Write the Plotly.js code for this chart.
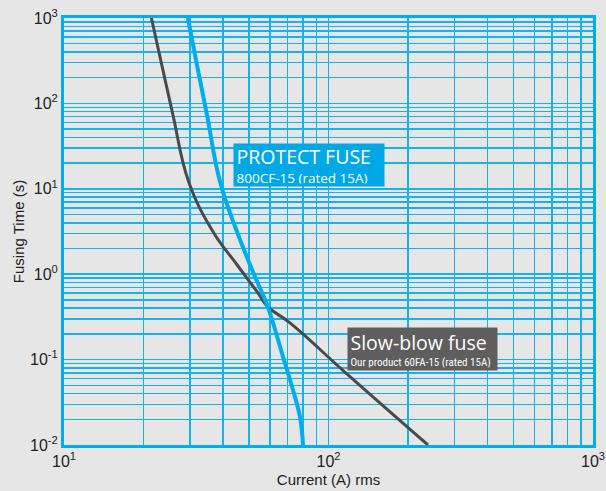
<!DOCTYPE html>
<html><head><meta charset="utf-8">
<script src="https://cdn.plot.ly/plotly-3.0.1.min.js"></script>
<style>body{margin:0;background:#e6e6e6}#chart{width:606px;height:491px}</style>
</head><body><div id="chart"></div>
<script>
// Slow-blow fuse (Our product 60FA-15)
const slowCurrent = [21.4, 23.1, 25.8, 29.6, 36.6, 45.1, 54.1, 59.0, 71.5, 118.5, 237.7];
const slowTime    = [1000, 344, 74.0, 12.1, 3.14, 1.29, 0.605, 0.415, 0.269, 0.0662, 0.01];
// PROTECT FUSE (800CF-15)
const protCurrent = [29.4, 31.8, 34.7, 38.9, 45.1, 51.8, 56.1, 59.0, 67.3, 73.4, 78.0, 80.1];
const protTime    = [1000, 285, 74.0, 12.1, 3.14, 1.07, 0.605, 0.415, 0.108, 0.0441, 0.0213, 0.01];

const xDecades = [1, 2, 3];          // exponents of 10 labelled on x
const yDecades = [-2, -1, 0, 1, 2, 3];
const mantissas = [2, 3, 4, 5, 6, 7, 8, 9];

function majors(decs) {
  return {vals: decs.map(e => Math.pow(10, e)), txt: decs.map(e => '10<sup>' + e + '</sup>')};
}
function minors(decs) {
  const v = [];
  decs.slice(0, -1).forEach(e => mantissas.forEach(m => v.push(m * Math.pow(10, e))));
  return v;
}
const xt = majors(xDecades), yt = majors(yDecades);

const gridColor = '#16b2ec';
const data = [
  {x: slowCurrent, y: slowTime, type: 'scatter', mode: 'lines', line: {color: '#4a4a4a', width: 3, shape: 'spline', smoothing: 1.2}, hoverinfo: 'none'},
  {x: protCurrent, y: protTime, type: 'scatter', mode: 'lines', line: {color: '#00aeef', width: 4, shape: 'spline', smoothing: 1.2}, hoverinfo: 'none'}
];
const fontFam = '"Liberation Sans", Arial, sans-serif';
const boxFam = '"Open Sans", "Noto Sans", sans-serif';
const axisCommon = {
  type: 'log', tickmode: 'array',
  showgrid: true, gridcolor: gridColor, gridwidth: 1.5, zeroline: false,
  showline: true, mirror: true, linecolor: '#00aeef', linewidth: 3,
  ticks: '', tickfont: {size: 16, family: fontFam, color: '#222'}
};
const layout = {
  width: 606, height: 491,
  margin: {l: 64, r: 13, t: 18, b: 46},
  paper_bgcolor: '#e6e6e6', plot_bgcolor: '#e6e6e6',
  showlegend: false,
  font: {family: fontFam, color: '#222', size: 16},
  xaxis: Object.assign({}, axisCommon, {
    range: [1, 3], tickvals: xt.vals, ticktext: xt.txt,
    minor: {tickmode: 'array', tickvals: minors(xDecades), showgrid: true, gridcolor: gridColor, gridwidth: 1.5, ticks: ''},
    title: {text: 'Current (A) rms', font: {size: 15, family: fontFam, color: '#222'}, standoff: 6}
  }),
  yaxis: Object.assign({}, axisCommon, {
    range: [-2, 3], tickvals: yt.vals, ticktext: yt.txt,
    minor: {tickmode: 'array', tickvals: minors(yDecades), showgrid: true, gridcolor: gridColor, gridwidth: 1.5, ticks: ''},
    title: {text: 'Fusing Time (s)', font: {size: 15, family: fontFam, color: '#222'}, standoff: 2}
  }),
  annotations: [
    {xref: 'paper', yref: 'paper', x: 0.319, y: 0.707, xanchor: 'left', yanchor: 'top', align: 'left',
     width: 145, height: 37, valign: 'middle',
     showarrow: false, bgcolor: '#00a8e6', borderpad: 2.5,
     text: '<span style="font-size:19.5px">PROTECT FUSE</span><br><span style="font-size:13.5px">800CF-15 (rated 15A)</span>',
     font: {color: '#ffffff', family: boxFam, size: 14}},
    {xref: 'paper', yref: 'paper', x: 0.535, y: 0.276, xanchor: 'left', yanchor: 'top', align: 'left',
     width: 144, height: 37, valign: 'middle',
     showarrow: false, bgcolor: '#5e5e5e', borderpad: 2.5,
     text: '<span style="font-size:19.5px">Slow-blow fuse</span><br><span style="font-size:11px;font-family:\'Liberation Sans Narrow\', \'Roboto Condensed\', sans-serif">Our product 60FA-15 (rated 15A)</span>',
     font: {color: '#ffffff', family: boxFam, size: 13}}
  ]
};
Plotly.newPlot('chart', data, layout, {staticPlot: true});
</script></body></html>
